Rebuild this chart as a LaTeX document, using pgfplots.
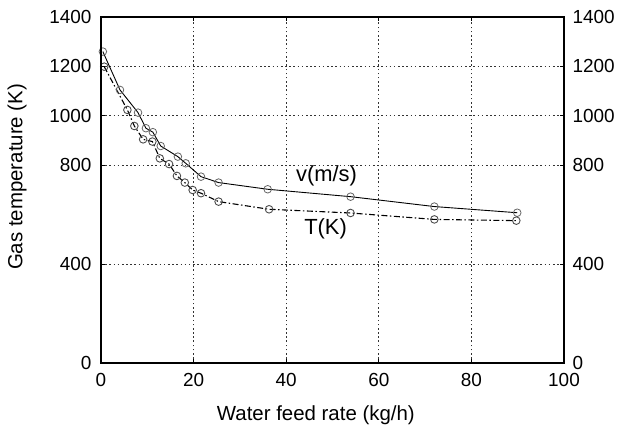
\documentclass[border=0pt]{standalone}
\usepackage{pgfplots}
\pgfplotsset{compat=1.18}
\usepackage{pgfplotstable}
\usepackage{fontspec}
\setmainfont{Liberation Sans}

% v(m/s)
\pgfplotstableread{
x y
0.4 1260
4.1 1105
8.0 1013
9.7 950
11.2 934
12.9 878
16.6 835
18.3 808
21.6 754
25.4 730
36.0 703
53.9 673
72.0 633
89.9 608
}\vdata
% T(K)
\pgfplotstableread{
x y
0.7 1199
5.7 1024
7.2 959
9.1 905
11.1 896
12.7 828
14.7 805
16.4 757
18.1 730
19.8 700
21.6 687
25.4 653
36.3 622
53.9 607
72.0 581
89.7 576
}\tdata

\pgfplotsset{
  base/.style={
    scale only axis,
    width=463bp, height=346bp,
    xmin=0, xmax=100, ymin=0, ymax=1400,
    xtick={0,20,...,100},
    ytick={0,400,800,1000,1200,1400},
    tick align=inside,
    major tick length=4bp,
    axis line style={line width=1.1pt},
    tick style={line width=0.9pt, black},
    /pgf/number format/assume math mode=true,
    /pgf/number format/1000 sep={},
    tick label style={font=\fontsize{19}{22}\selectfont},
    label style={font=\fontsize{20.5}{23}\selectfont},
  }
}

\begin{document}
\begin{tikzpicture}
\begin{axis}[
  base,
  name=main,
  grid=major,
  grid style={line width=1.1pt, black!80, dash pattern=on 1.6pt off 2.6pt},
  xlabel={Water feed rate (kg/h)},
  ylabel={Gas temperature (K)},
  xlabel style={at={(axis description cs:0.464,-0.150)}, anchor=center},
  ylabel style={at={(axis description cs:-0.181,0.538)}, anchor=center},
  yticklabel style={xshift=-6bp},
  xticklabel style={yshift=-7bp},
]
\addplot[black, line width=0.9pt, mark=o, mark size=3.8bp,
  mark options={solid, black!60, line width=0.8pt}] table[x=x,y=y] {\vdata};
\addplot[black, line width=1.1pt, dash pattern=on 6pt off 2.5pt on 1.5pt off 2.5pt,
  mark=o, mark size=3.8bp,
  mark options={solid, black!70, line width=0.9pt}] table[x=x,y=y] {\tdata};
\node[font=\fontsize{22}{24}\selectfont] at (axis cs:48.7,757) {v(m/s)};
\node[font=\fontsize{22}{24}\selectfont] at (axis cs:48.5,542) {T(K)};
\end{axis}
\begin{axis}[
  base,
  xtick=\empty,
  axis x line=none,
  yticklabel pos=right,
  yticklabel style={xshift=5bp},
]
\end{axis}
\pgfresetboundingbox
\path ([shift={(-101bp,-66bp)}]main.south west) rectangle ([shift={(58bp,17bp)}]main.north east);
\end{tikzpicture}
\end{document}
